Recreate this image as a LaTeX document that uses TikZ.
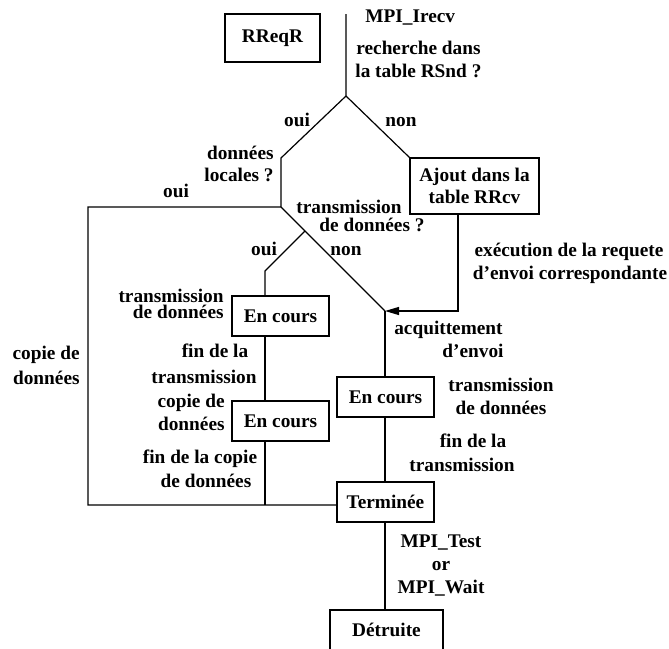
\documentclass[tikz,border=0pt]{standalone}
\usepackage{fontspec}
\setmainfont{Liberation Serif}
\usetikzlibrary{arrows.meta}
\begin{document}
\begin{tikzpicture}[x=0.5pt,y=-0.5pt,
  every node/.style={font=\fontsize{9.65}{12}\selectfont\bfseries},
  lbl/.style={inner sep=0pt, text height=0.69em, text depth=0.2em},
  statebox/.style={draw, line width=0.6pt, minimum width=48.5pt, minimum height=20pt, inner sep=0pt},
  conn/.style={line width=0.6pt}]
\useasboundingbox (0,0) rectangle (669,648);
\clip (0,0) rectangle (669,648);

% boxes
\node[statebox, minimum width=47.5pt, minimum height=24pt] (rreqr) at (272.5,38) {RReqR};
\node[statebox, minimum width=64.5pt, minimum height=28pt, align=center,
      font=\fontsize{9.65}{11}\selectfont\bfseries] (ajout) at (474.5,186) {Ajout dans la\\table RRcv};
\node[statebox] (ec1) at (280.5,316) {En cours};
\node[statebox] (ec2) at (280.5,421) {En cours};
\node[statebox] (ec3) at (385.5,397) {En cours};
\node[statebox] (term) at (385.5,502) {Terminée};
\node[statebox, minimum width=56.5pt] (detr) at (386.5,630) {Détruite};

% corner points
\coordinate (top) at (346,14);
\coordinate (split) at (346,96);
\coordinate (c1) at (281,158);
\coordinate (c2) at (281,207);
\coordinate (L1) at (88,207);
\coordinate (L2) at (88,505);
\coordinate (j) at (305,231);
\coordinate (k) at (265,271);
\coordinate (m) at (385,311);
\coordinate (r) at (458,311);

% connectors
\draw[conn] (top) -- (split) -- (c1) -- (c2) -- (L1) -- (L2) -- (L2 -| term.west);
\draw[conn] (split) -- (ajout.north west);
\draw[conn] (c2) -- (m);
\draw[conn] (j) -- (k) -- (k |- ec1.north);
\draw[conn] (k |- ec1.south) -- (k |- ec2.north);
\draw[conn] (k |- ec2.south) -- (k |- L2);
\draw[conn, -{Triangle[length=7pt,width=4pt]}] (r |- ajout.south) -- (r) -- (m);
\draw[conn] (m) -- (m |- ec3.north);
\draw[conn] (m |- ec3.south) -- (m |- term.north);
\draw[conn] (m |- term.south) -- (m |- detr.north);

% labels
\node[lbl, anchor=west] (irecv) at (365,18) {MPI\_Irecv};
\node[lbl, anchor=west] (rech1) at (356,50) {recherche dans};
\node[lbl, anchor=west] (rech2) at (355,73) {la table RSnd ?};
\node[lbl] (oui1) at (297,122) {oui};
\node[lbl] (non1) at (401,122) {non};
\node[lbl, anchor=east] (loc1) at (274,155) {données};
\node[lbl, anchor=east] (loc2) at (274,177) {locales ?};
\node[lbl] (oui2) at (176,193) {oui};
\node[lbl] (tr1) at (349,209) {transmission};
\node[lbl] (tr2) at (372,227) {de données ?};
\node[lbl] (oui3) at (264,251) {oui};
\node[lbl] (non2) at (346,251) {non};
\node[lbl] (exe1) at (569,252) {exécution de la requete};
\node[lbl] (exe2) at (570,275) {d’envoi correspondante};
\node[lbl, text depth=0pt, anchor=base east] (td1) at (224,302.7) {transmission};
\node[lbl, text height=0.62em, anchor=base east] (td2) at (224,318.7) {de données};
\node[lbl, anchor=east] (cd1) at (80,355) {copie de};
\node[lbl, anchor=east] (cd2) at (80,380) {données};
\node[lbl] (ft1) at (215,353) {fin de la};
\node[lbl] (ft2) at (204,379) {transmission};
\node[lbl, anchor=east] (cp1) at (225,403) {copie de};
\node[lbl, anchor=east] (cp2) at (225,426) {données};
\node[lbl] (fc1) at (200,459) {fin de la copie};
\node[lbl] (fc2) at (206,483) {de données};
\node[lbl, anchor=east] (aq1) at (503,330) {acquittement};
\node[lbl, anchor=east] (aq2) at (504,353) {d’envoi};
\node[lbl] (tr3) at (501,387) {transmission};
\node[lbl] (tr4) at (501,410) {de données};
\node[lbl] (ft3) at (473,443) {fin de la};
\node[lbl] (ft4) at (462,467) {transmission};
\node[lbl] (mt) at (441,543) {MPI\_Test};
\node[lbl] (or) at (441,566) {or};
\node[lbl] (mw) at (441,589) {MPI\_Wait};
\end{tikzpicture}
\end{document}
